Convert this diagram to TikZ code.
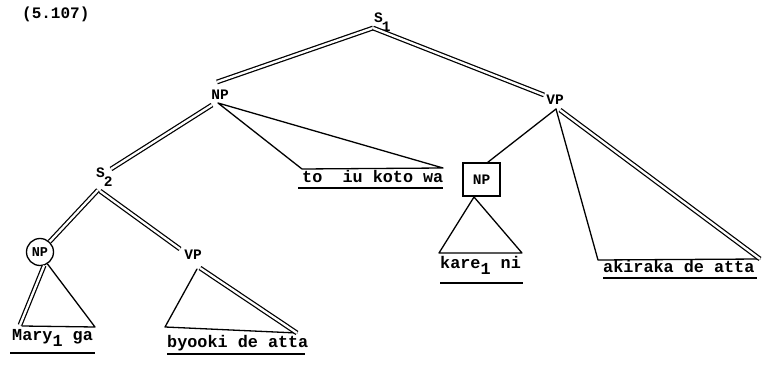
\documentclass[tikz,border=0pt]{standalone}
\usepackage{fontspec}
\newfontfamily\tw{Liberation Mono}
\begin{document}
\begin{tikzpicture}[x=1pt,y=-1pt,
  ln/.style={line width=1.3pt, line cap=round, line join=round},
  dbl/.style={line width=1.25pt, double, double distance=2.3pt},
  ul/.style={line width=2pt},
  txt/.style={font=\tw\bfseries\fontsize{16.8}{16.8}\selectfont, inner sep=0pt, anchor=mid west},
  lab/.style={font=\tw\bfseries\fontsize{14.5}{14.5}\selectfont, inner sep=0pt}]
\useasboundingbox (0,0) rectangle (771,366);

% labels
\node[font=\tw\bfseries\fontsize{16}{16}\selectfont, inner sep=0pt, anchor=base west] (num) at (22,19) {(5.107)};
\node[lab, anchor=base west] (S1) at (374,23) {S\hspace{-1pt}\raisebox{-9pt}{1}};
\node[lab] (NP1) at (220,95) {NP};
\node[lab] (VP1) at (555,100) {VP};
\node[lab, anchor=base west] (S2) at (96,178) {S\hspace{-1pt}\raisebox{-9pt}{2}};
\node[lab, font=\tw\bfseries\fontsize{13.5}{13.5}\selectfont, draw, circle, minimum size=27pt, line width=1.3pt] (NPc) at (40,252) {NP};
\node[lab] (VP2) at (193,255) {VP};
\node[lab, draw, minimum width=37pt, minimum height=33pt, line width=1.4pt] (NPb) at (481.5,179.5) {NP};

% terminal strings
\node[txt] (mary) at (12,338) {Mary\raisebox{-6pt}{1} ga};
\node[txt] (byo) at (167,345) {byooki de atta};
\node[txt] (toiu) at (302,180) {to\ \ iu koto wa};
\node[txt] (kare) at (440,266) {kare\raisebox{-6pt}{1} ni};
\node[txt] (aki) at (603,270) {akiraka de atta};

% junctions
\coordinate (s1j) at (373,28);
\coordinate (np1t) at (217,82);
\coordinate (np1b) at (212,105);
\coordinate (np1j) at (218,103);
\coordinate (vp1t) at (544,95);
\coordinate (vp1j) at (556,109);
\coordinate (vp1d) at (560,110);
\coordinate (s2t) at (111,169);
\coordinate (s2j) at (98,190);
\coordinate (s2r) at (100,191);
\coordinate (vp2t) at (180,249);
\coordinate (vp2j) at (197,269);
\coordinate (vp2d) at (200,268);
\coordinate (tl) at (302,169);
\coordinate (tr) at (443,168);
\coordinate (kap) at (474,197);
\coordinate (kl) at (439,253);
\coordinate (kr) at (522,253);
\coordinate (al) at (598,260);
\coordinate (ar) at (760,259);
\coordinate (bl) at (165,327);
\coordinate (br) at (297,333);
\coordinate (ml) at (22,326);
\coordinate (mr) at (95,327);
\coordinate (md) at (20,325);

% branches
\draw[dbl] (s1j) -- (np1t);
\draw[dbl] (s1j) -- (vp1t);
\draw[dbl] (np1b) -- (s2t);
\draw[ln] (tr) -- (np1j) -- (tl) -- (tr);
\draw[dbl] (s2j) -- (NPc);
\draw[dbl] (s2r) -- (vp2t);
\draw[dbl] (NPc.-73) -- (md);
\draw[ln] (NPc.-58) -- (mr) -- (ml);
\draw[ln] (vp2j) -- (bl) -- (br);
\draw[dbl] (vp2d) -- (br);
\draw[ln] (vp1j) -- (NPb.70);
\draw[ln] (kr) -- (kap) -- (kl) -- (kr);
\draw[ln] (vp1j) -- (al) -- (ar);
\draw[dbl] (vp1d) -- (ar);

% underlines
\draw[ul] (10,353) -- (95,353);
\draw[ul] (167,354) -- (305,354);
\draw[ul] (298,188) -- (443,188);
\draw[ul] (440,283) -- (523,283);
\draw[ul] (603,278) -- (757,278);
\end{tikzpicture}
\end{document}
